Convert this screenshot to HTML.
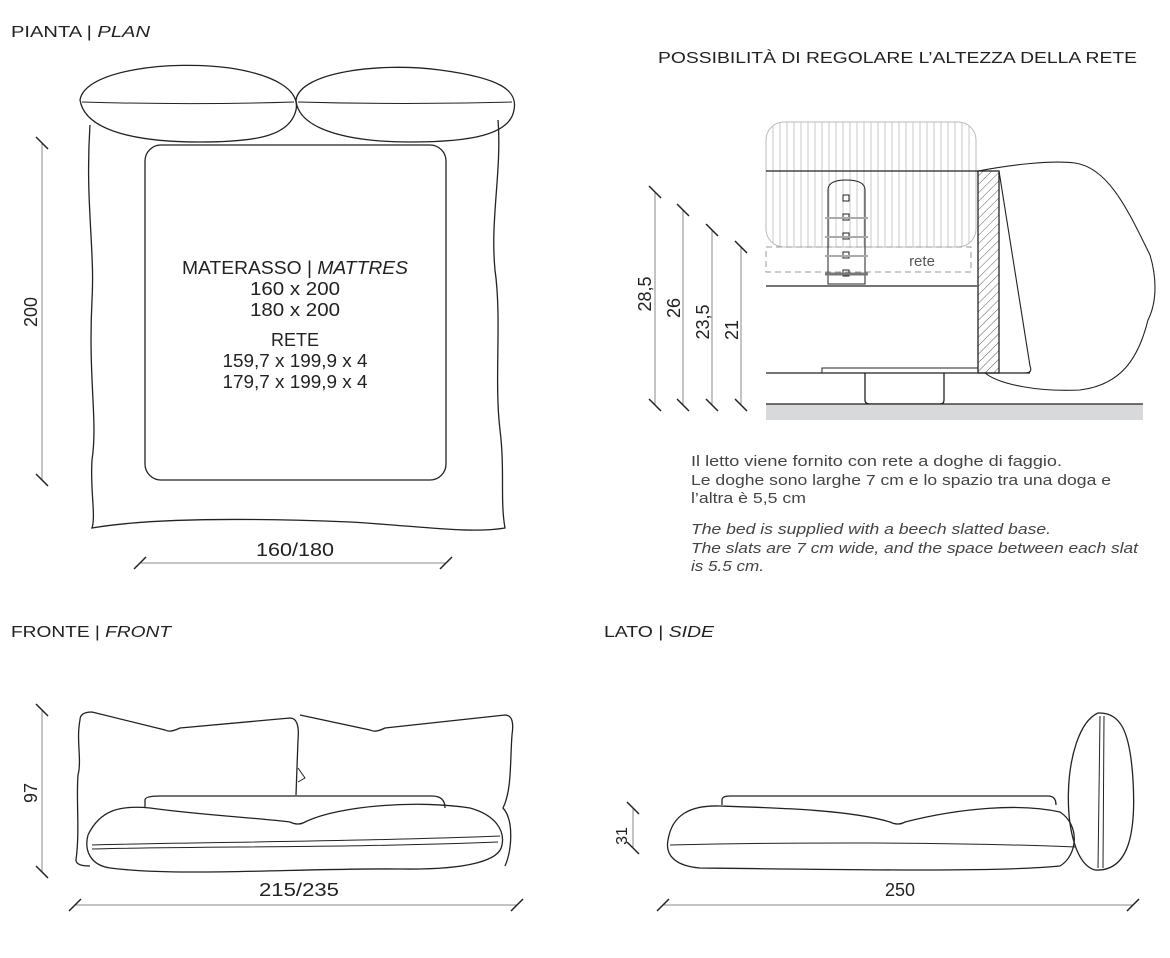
<!DOCTYPE html>
<html><head><meta charset="utf-8"><style>
html,body{margin:0;padding:0;background:#fff;}
svg{display:block;font-family:"Liberation Sans",sans-serif;}
</style></head><body>
<svg width="1170" height="958" viewBox="0 0 1170 958" xmlns="http://www.w3.org/2000/svg">
<defs>
<pattern id="hatch" width="6" height="6" patternUnits="userSpaceOnUse" patternTransform="rotate(45)"><line x1="0" y1="0" x2="0" y2="6" stroke="#333" stroke-width="0.8"/></pattern>
<pattern id="vl" width="7" height="10" patternUnits="userSpaceOnUse"><line x1="3" y1="0" x2="3" y2="10" stroke="#bbb" stroke-width="0.8"/></pattern>
</defs>
<g fill="#222" font-size="16" lengthAdjust="spacingAndGlyphs">
<text x="11" y="37" textLength="139" lengthAdjust="spacingAndGlyphs">PIANTA | <tspan font-style="italic">PLAN</tspan></text>
<text x="658" y="63" textLength="479" lengthAdjust="spacingAndGlyphs">POSSIBILITÀ DI REGOLARE L’ALTEZZA DELLA RETE</text>
<text x="11" y="637" textLength="160" lengthAdjust="spacingAndGlyphs">FRONTE | <tspan font-style="italic">FRONT</tspan></text>
<text x="604" y="637" textLength="110" lengthAdjust="spacingAndGlyphs">LATO | <tspan font-style="italic">SIDE</tspan></text>
</g>
<g fill="none" stroke="#222" stroke-width="1.3">
<!-- plan -->
<path d="M90,125 C85,200 95,250 92,300 C88,380 98,420 92,460 C90,490 96,515 92,528 C150,518 250,518 350,522 C420,526 470,534 505,528 C500,500 505,470 500,430 C494,380 502,320 495,270 C490,220 502,170 498,120"/>
<path d="M80,100 C85,70 170,60 230,68 C275,75 300,90 296,110 C290,135 260,142 200,142 C140,142 85,132 80,100Z"/>
<path d="M296,100 C300,72 380,62 440,70 C500,78 518,90 514,110 C510,135 470,142 410,142 C350,142 298,130 296,100Z"/>
<path d="M82,102 C150,104 230,104 294,102 M298,102 C370,104 440,104 512,102" stroke-width="1"/>
<rect x="145" y="145" width="301" height="335" rx="16"/>
<!-- section -->
<rect x="766" y="122" width="210" height="125" rx="18" fill="url(#vl)" stroke="#bbb" stroke-width="1"/>
<line x1="766" y1="171" x2="978" y2="171"/>
<line x1="766" y1="286" x2="977" y2="286"/>
<rect x="978" y="171" width="21" height="202" fill="url(#hatch)"/>
<line x1="766" y1="373" x2="1030" y2="373"/>
<rect x="822" y="368" width="156" height="5" stroke-width="1"/>
<path d="M865,373 V400 Q865,404 870,404 H940 Q944,404 944,400 V373"/>
<rect x="766" y="247" width="205" height="25" stroke="#999" stroke-dasharray="6,4" stroke-width="1"/>
<path d="M828,284 V190 Q828,180 846,180 Q865,180 865,190 V284 Z" stroke-width="1"/>
<g stroke-width="1"><rect x="843" y="195" width="6" height="6"/><rect x="843" y="214" width="6" height="6"/><rect x="843" y="233" width="6" height="6"/><rect x="843" y="252" width="6" height="6"/><rect x="843" y="270" width="6" height="6"/></g>
<g stroke="#aaa" stroke-width="2"><line x1="825" y1="218" x2="868" y2="218"/><line x1="825" y1="237" x2="868" y2="237"/><line x1="825" y1="256" x2="868" y2="256"/></g>
<line x1="825" y1="274" x2="868" y2="274" stroke="#777" stroke-width="3"/>
<path d="M999,171 L1030,366 Q1033,373 1025,373" stroke-width="1.1"/>
<path d="M978,171 C1010,165 1050,160 1075,163 C1110,168 1130,215 1150,255 C1156,275 1158,300 1148,320 C1138,360 1120,385 1080,390 C1040,392 1000,385 985,373" stroke-width="1.1"/>
<!-- front -->
<path d="M80,720 Q80,712 92,712 L165,730 Q170,733 180,728 L290,718 Q300,718 298,740 L296,795 M80,720 C76,740 82,760 78,775 C76,800 80,830 76,860 Q76,866 90,866"/>
<path d="M300,715 L370,730 Q375,733 385,728 L505,715 Q515,715 512,735 C510,760 512,790 503,808 C514,820 512,850 505,866"/>
<path d="M298,768 L305,778 L298,782" stroke-width="1"/>
<path d="M145,808 V800 Q145,796 160,796 H432 Q445,796 445,808"/>
<path d="M88,835 C100,810 120,805 150,808 C200,815 260,818 290,822 Q298,826 305,822 C340,805 420,800 470,808 C495,815 505,830 502,845 C500,860 470,870 400,869 C300,868 180,877 110,868 C90,865 84,850 88,835Z"/>
<path d="M92,845 C200,842 350,842 500,836 M92,849 C200,846 350,848 498,842" stroke-width="1"/>
<!-- side -->
<path d="M722,805 V800 Q722,796 730,796 H1048 Q1056,796 1056,805"/>
<path d="M668,840 C672,815 690,805 720,806 C780,808 850,810 890,822 Q898,826 905,822 C960,808 1020,803 1060,812 C1080,825 1078,855 1060,866 C1000,872 860,870 700,868 C675,866 665,855 668,840Z"/>
<path d="M670,845 C800,842 950,842 1075,847" stroke-width="1"/>
<path d="M1098,713 C1060,730 1058,860 1095,870 C1130,872 1136,830 1133,780 C1130,730 1120,712 1098,713Z"/>
<path d="M1100,716 L1098,868 M1104,716 L1103,868" stroke-width="1"/>
</g>
<!-- dimension lines -->
<g stroke="#888" stroke-width="1">
<line x1="42" y1="143" x2="42" y2="480"/>
<line x1="140" y1="563" x2="446" y2="563"/>
<line x1="655" y1="192" x2="655" y2="405"/>
<line x1="683" y1="210" x2="683" y2="405"/>
<line x1="712" y1="230" x2="712" y2="405"/>
<line x1="741" y1="247" x2="741" y2="405"/>
<line x1="42" y1="710" x2="42" y2="872"/>
<line x1="75" y1="905" x2="517" y2="905"/>
<line x1="633" y1="808" x2="633" y2="848"/>
<line x1="663" y1="905" x2="1133" y2="905"/>
</g>
<g stroke="#222" stroke-width="1.5">
<path d="M36,137 l12,12 M36,474 l12,12 M134,569 l12,-12 M440,569 l12,-12 M649,186 l12,12 M677,204 l12,12 M706,224 l12,12 M735,241 l12,12 M649,399 l12,12 M677,399 l12,12 M706,399 l12,12 M735,399 l12,12 M36,704 l12,12 M36,866 l12,12 M69,911 l12,-12 M511,911 l12,-12 M627,802 l12,12 M627,842 l12,12 M657,911 l12,-12 M1127,911 l12,-12"/>
</g>
<g fill="#222" font-size="18" text-anchor="middle">
<text x="295" y="274" textLength="226" lengthAdjust="spacingAndGlyphs">MATERASSO | <tspan font-style="italic">MATTRES</tspan></text>
<text x="295" y="295" textLength="90" lengthAdjust="spacingAndGlyphs">160 x 200</text>
<text x="295" y="316" textLength="90" lengthAdjust="spacingAndGlyphs">180 x 200</text>
<text x="295" y="346">RETE</text>
<text x="295" y="367" textLength="145" lengthAdjust="spacingAndGlyphs">159,7 x 199,9 x 4</text>
<text x="295" y="388" textLength="145" lengthAdjust="spacingAndGlyphs">179,7 x 199,9 x 4</text>
<text x="295" y="556" textLength="78" lengthAdjust="spacingAndGlyphs">160/180</text>
<text x="299" y="896" textLength="80" lengthAdjust="spacingAndGlyphs">215/235</text>
<text x="900" y="896">250</text>
<text transform="translate(37,312) rotate(-90)">200</text>
<text transform="translate(651,294) rotate(-90)">28,5</text>
<text transform="translate(680,308) rotate(-90)">26</text>
<text transform="translate(709,322) rotate(-90)">23,5</text>
<text transform="translate(738,330) rotate(-90)">21</text>
<text transform="translate(37,793) rotate(-90)">97</text>
<text transform="translate(627,836) rotate(-90)" font-size="16">31</text>
<text x="922" y="266" font-size="15" fill="#555">rete</text>
</g>
<g fill="#444" font-size="14.5">
<text x="691" y="466" textLength="371" lengthAdjust="spacingAndGlyphs">Il letto viene fornito con rete a doghe di faggio.</text>
<text x="691" y="485" textLength="420" lengthAdjust="spacingAndGlyphs">Le doghe sono larghe 7 cm e lo spazio tra una doga e</text>
<text x="691" y="503" textLength="115" lengthAdjust="spacingAndGlyphs">l’altra è 5,5 cm</text>
<g font-style="italic"><text x="691" y="534" textLength="360" lengthAdjust="spacingAndGlyphs">The bed is supplied with a beech slatted base.</text>
<text x="691" y="553" textLength="447" lengthAdjust="spacingAndGlyphs">The slats are 7 cm wide, and the space between each slat</text>
<text x="691" y="571" textLength="73" lengthAdjust="spacingAndGlyphs">is 5.5 cm.</text></g>
</g>
<rect x="766" y="404" width="377" height="16" fill="#d8d9db"/>
<line x1="766" y1="404" x2="1143" y2="404" stroke="#222" stroke-width="1.2"/>
</svg>
</body></html>
